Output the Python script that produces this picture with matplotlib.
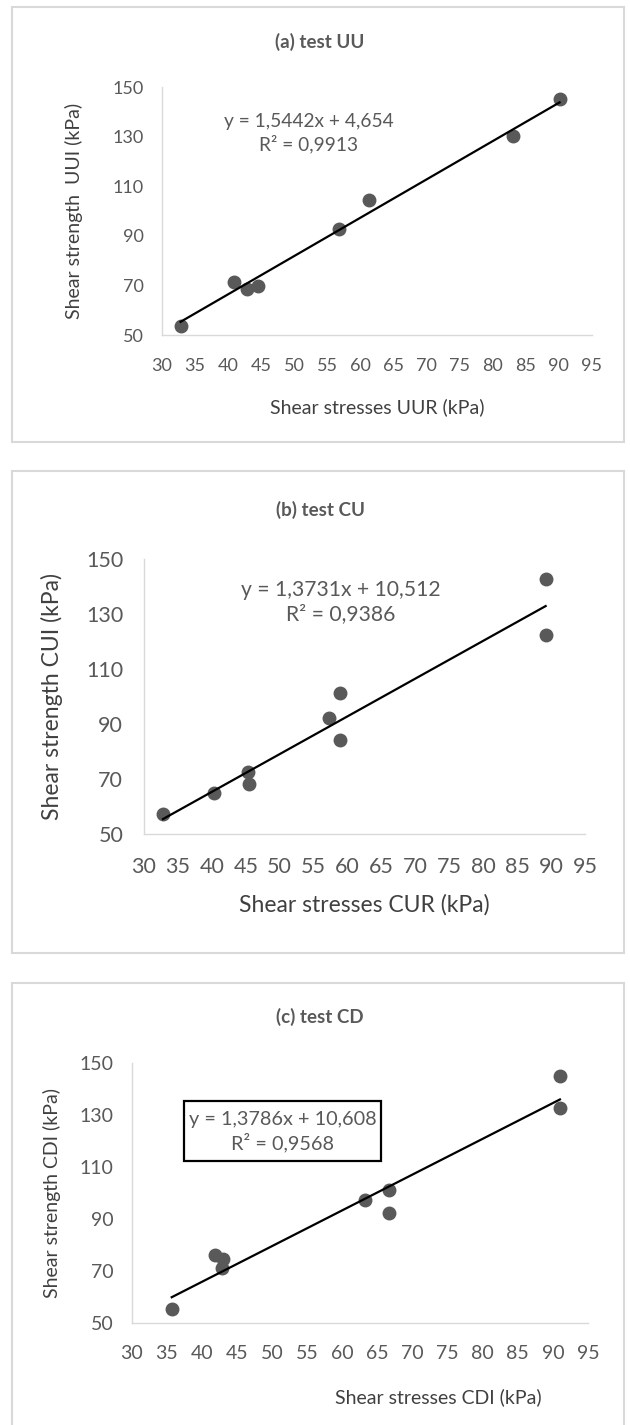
import matplotlib
matplotlib.use("Agg")
import matplotlib.pyplot as plt
from matplotlib.patches import Rectangle
import numpy as np

plt.rcParams['font.family'] = ['Lato', 'DejaVu Sans']

# ---------------- data ----------------
uu_x = [32.8, 40.9, 42.9, 44.5, 56.7, 61.3, 83.1, 90.1]
uu_y = [53.6, 71.5, 68.4, 69.8, 92.6, 104.4, 130.2, 145.0]
uu_slope, uu_intercept = 1.5442, 4.654
uu_eq = "y = 1,5442x + 4,654"
uu_r2 = "R² = 0,9913"

cu_x = [32.8, 40.3, 45.3, 45.5, 57.3, 58.9, 58.9, 89.2, 89.2]
cu_y = [57.4, 64.9, 72.8, 68.2, 92.4, 101.3, 84.3, 122.5, 142.7]
cu_slope, cu_intercept = 1.3731, 10.512
cu_eq = "y = 1,3731x + 10,512"
cu_r2 = "R² = 0,9386"

cd_x = [35.7, 41.9, 43.0, 42.9, 63.2, 66.6, 66.6, 91.0, 91.0]
cd_y = [55.1, 76.1, 74.4, 71.0, 97.3, 101.2, 92.4, 132.6, 145.1]
cd_slope, cd_intercept = 1.3786, 10.608
cd_eq = "y = 1,3786x + 10,608"
cd_r2 = "R² = 0,9568"

titles = ["(a) test UU", "(b) test CU", "(c) test CD"]
xlabels = ["Shear stresses UUR (kPa)", "Shear stresses CUR (kPa)", "Shear stresses CDI (kPa)"]
ylabels = ["Shear strength  UUI (kPa)", "Shear strength CUI (kPa)", "Shear strength CDI (kPa)"]
xticks = [30, 35, 40, 45, 50, 55, 60, 65, 70, 75, 80, 85, 90, 95]
yticks = [50, 70, 90, 110, 130, 150]

# ---------------- layout ----------------
W, H = 630, 1425
fig = plt.figure(figsize=(W / 100, H / 100), dpi=100)


def rect(l, r, t, b):
    return [l / W, 1 - b / H, (r - l) / W, (b - t) / H]


# panel frames
for (l, t, r, b) in [(12, 7, 624, 442), (12, 471, 624, 953), (12, 983, 624, 1440)]:
    fig.patches.append(Rectangle((l / W, 1 - b / H), (r - l) / W, (b - t) / H,
                                 transform=fig.transFigure, fill=False,
                                 edgecolor='#d9d9d9', lw=1.5))

panels = [
    dict(pos=rect(162, 592, 87, 335), x=uu_x, y=uu_y, m=uu_slope, c=uu_intercept,
         eq=uu_eq, r2=uu_r2, eqpos=(52.2, 131.5), eqsize=13.8, box=None,
         tick=13, lab=14, ylab_x=-0.184, xlab=(0.5, -0.255), title_y=42, xpad=16.5, ypad=13),
    dict(pos=rect(144, 585, 559.3, 834.3), x=cu_x, y=cu_y, m=cu_slope, c=cu_intercept,
         eq=cu_eq, r2=cu_r2, eqpos=(59.0, 134.5), eqsize=15.2, box=None,
         tick=15.5, lab=16.5, ylab_x=-0.183, xlab=(0.5, -0.217), title_y=510, xpad=16.5, ypad=15),
    dict(pos=rect(131.7, 588, 1063.3, 1322.7), x=cd_x, y=cd_y, m=cd_slope, c=cd_intercept,
         eq=cd_eq, r2=cd_r2, eqpos=(51.5, 123.6), eqsize=14.3, box=(37.5, 112.3, 65.5, 135.5),
         tick=14, lab=14, ylab_x=-0.156, xlab=(0.673, -0.252), title_y=1017, xpad=16, ypad=13),
]

for i, p in enumerate(panels):
    ax = fig.add_axes(p['pos'])
    ax.set_xlim(30, 95)
    ax.set_ylim(50, 150)
    ax.set_xticks(xticks)
    ax.set_yticks(yticks)
    for s in ['top', 'right']:
        ax.spines[s].set_visible(False)
    for s in ['left', 'bottom']:
        ax.spines[s].set_color('#d9d9d9')
        ax.spines[s].set_linewidth(1.0)
    ax.tick_params(axis='both', length=0, labelsize=p['tick'], colors='#595959')
    ax.tick_params(axis='x', pad=p['xpad'])
    ax.tick_params(axis='y', pad=p['ypad'])

    ax.plot(p['x'], p['y'], 'o', color='#595959', ms=9, mec='#595959', zorder=3, clip_on=False)
    xs = np.array([min(p['x']), max(p['x'])])
    ax.plot(xs, p['m'] * xs + p['c'], color='black', lw=1.6, zorder=4)

    ax.set_xlabel(xlabels[i], fontsize=p['lab'], color='#404040')
    ax.set_ylabel(ylabels[i], fontsize=p['lab'], color='#404040')
    ax.xaxis.set_label_coords(*p['xlab'])
    ax.yaxis.set_label_coords(p['ylab_x'], 0.5)

    txt = p['eq'] + "\n" + p['r2']
    ax.text(p['eqpos'][0], p['eqpos'][1], txt, ha='center', va='center',
            fontsize=p['eqsize'], color='#595959', linespacing=1.3,
            multialignment='center', zorder=6)
    if p['box'] is not None:
        x0, y0, x1, y1 = p['box']
        ax.add_patch(Rectangle((x0, y0), x1 - x0, y1 - y0, fill=True, fc='white',
                               ec='black', lw=1.6, zorder=5))

    fig.text(320 / W, 1 - p['title_y'] / H, titles[i], ha='center', va='center',
             fontsize=13.5, fontweight='bold', color='#595959')

fig.savefig('out.png', dpi=100, facecolor='white')
